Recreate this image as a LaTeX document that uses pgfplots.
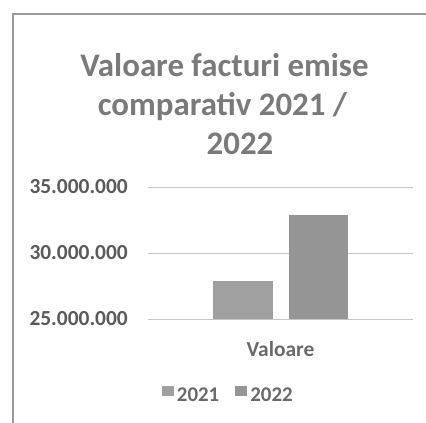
\documentclass[border=0pt]{standalone}
\usepackage{pgfplots}
\pgfplotsset{compat=1.18}
\usepackage{fontspec}
\setmainfont{Carlito}
\definecolor{titlegray}{HTML}{7A7A7A}
\definecolor{tickgray}{HTML}{5A5A5A}
\definecolor{labgray}{HTML}{6A6A6A}
\definecolor{framegray}{HTML}{9A9A9A}
\definecolor{bara}{HTML}{A0A0A0}
\definecolor{barb}{HTML}{959595}
\begin{document}
\begin{tikzpicture}[x=1bp,y=1bp]
\useasboundingbox (0,0) rectangle (426,423);
\draw[color=framegray, line width=1.3bp] (13,-5) -- (13,409) -- (431,409);
\node[font=\fontsize{33}{33}\selectfont\bfseries, text=titlegray, anchor=base, inner sep=0pt] at (224.5,347) {Valoare facturi emise};
\node[font=\fontsize{33}{33}\selectfont\bfseries, text=titlegray, anchor=base, inner sep=0pt] at (222.5,308) {comparativ 2021 /};
\node[font=\fontsize{33}{33}\selectfont\bfseries, text=titlegray, anchor=base, inner sep=0pt] at (240,269) {2022};
\begin{axis}[
  at={(148bp,104bp)}, anchor=south west,
  scale only axis, width=265bp, height=132bp,
  ybar,
  xmin=-0.5, xmax=0.5,
  ymin=25000000, ymax=35000000,
  ytick={25000000,30000000,35000000},
  yticklabels={25.000.000,30.000.000,35.000.000},
  scaled y ticks=false,
  xtick={0}, xticklabels={Valoare},
  axis line style={draw=none},
  major tick length=0pt,
  ymajorgrids,
  grid style={color=gray!45, line width=0.7bp},
  bar width=59bp,
  yticklabel style={font=\fontsize{21.5}{21.5}\selectfont\bfseries, text=tickgray, anchor=east, inner sep=0pt, xshift=-20bp},
  xticklabel style={font=\fontsize{21.5}{21.5}\selectfont\bfseries, text=labgray, anchor=base, inner sep=0pt, yshift=-37bp},
  legend columns=2,
  legend style={draw=none, fill=none, at={(0.0517,-0.572)}, anchor=west, inner sep=0pt,
    font=\fontsize{21}{21}\selectfont\bfseries, text=labgray,
    nodes={inner sep=0pt},
    /tikz/every odd column/.append style={column sep=3bp},
    /tikz/every even column/.append style={column sep=16bp}},
  legend image code/.code={\fill[#1,draw=none] (0bp,0bp) rectangle (12bp,10bp);},
]
\addplot[fill=bara, draw=none, bar shift=-37.5bp] coordinates {(0,27850000)};
\addplot[fill=barb, draw=none, bar shift=37.5bp] coordinates {(0,32900000)};
\legend{2021,2022}
\end{axis}
\end{tikzpicture}
\end{document}
